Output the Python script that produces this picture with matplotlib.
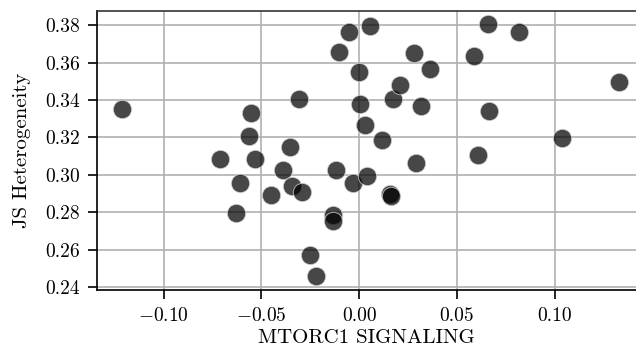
import matplotlib
matplotlib.use("Agg")
import matplotlib.pyplot as plt

plt.rcParams.update({
    "font.family": "serif",
    "font.serif": ["cmr10"],
    "mathtext.fontset": "cm",
    "axes.formatter.use_mathtext": True,
})

x_vals = [-0.121, -0.0711, -0.0631, -0.0607, -0.0563, -0.0555, -0.0531, -0.0451,
          -0.0390, -0.0351, -0.0343, -0.0309, -0.0294, -0.0251, -0.0220, -0.0136,
          -0.0136, -0.0119, -0.0102, -0.0051, -0.0029, -0.0003, 0.0003, 0.0031,
          0.0042, 0.0054, 0.0117, 0.0160, 0.0162, 0.0173, 0.0210, 0.0282,
          0.0289, 0.0316, 0.0360, 0.0589, 0.0607, 0.0657, 0.0665, 0.0815,
          0.1035, 0.1327]
y_vals = [0.3350, 0.3084, 0.2799, 0.2956, 0.3208, 0.3329, 0.3084, 0.2893,
          0.3026, 0.3149, 0.2941, 0.3405, 0.2911, 0.2572, 0.2458, 0.2787,
          0.2752, 0.3024, 0.3658, 0.3765, 0.2959, 0.3548, 0.3377, 0.3269,
          0.2995, 0.3795, 0.3189, 0.2896, 0.2888, 0.3404, 0.3478, 0.3649,
          0.3066, 0.3367, 0.3564, 0.3635, 0.3105, 0.3809, 0.3342, 0.3766,
          0.3198, 0.3496]

x_ticks = [-0.10, -0.05, 0.00, 0.05, 0.10]
y_ticks = [0.24, 0.26, 0.28, 0.30, 0.32, 0.34, 0.36, 0.38]

fig = plt.figure(figsize=(6.36, 3.49), dpi=100)
ax = fig.add_axes([0.1525, 0.169, 0.8475, 0.799])

ax.scatter(x_vals, y_vals, s=175, color="black", alpha=0.72,
           edgecolors="#dddddd", linewidths=0.7, zorder=3)

ax.set_xlim(-0.134, 0.1415)
ax.set_ylim(0.2385, 0.3875)
ax.set_xticks(x_ticks)
ax.set_yticks(y_ticks)
ax.xaxis.set_major_formatter(matplotlib.ticker.FuncFormatter(
    lambda v, p: ("$-$" if v < -1e-9 else "") + f"{abs(v):.2f}"))
ax.yaxis.set_major_formatter(matplotlib.ticker.FuncFormatter(
    lambda v, p: f"{v:.2f}"))
ax.grid(True, color="#b0b0b0", linewidth=1.2, zorder=0)
ax.set_axisbelow(True)
ax.tick_params(direction="out", length=6.5, width=1.2, labelsize=14, pad=6)
ax.spines["right"].set_visible(False)
for s in ["left", "bottom", "top"]:
    ax.spines[s].set_linewidth(1.2)
ax.spines["top"].set_color("#333333")
ax.set_xlabel("MTORC1 SIGNALING", fontsize=15, labelpad=3)
ax.set_ylabel("JS Heterogeneity", fontsize=15, labelpad=10)

fig.savefig("out.png", dpi=100)
